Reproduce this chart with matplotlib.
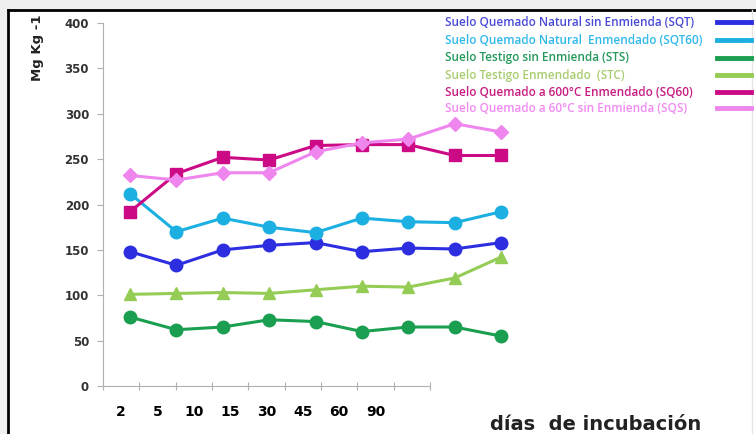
import matplotlib
matplotlib.use("Agg")
import matplotlib.pyplot as plt
from matplotlib.patches import Rectangle
from matplotlib.lines import Line2D

dias = ['2', '5', '10', '15', '30', '45', '60', '90']
n_puntos = 9

sqt = [148, 133, 150, 155, 158, 148, 152, 151, 158]
sqt60 = [212, 170, 185, 175, 169, 185, 181, 180, 192]
sts = [76, 62, 65, 73, 71, 60, 65, 65, 55]
stc = [101, 102, 103, 102, 106, 110, 109, 119, 142]
sq60 = [192, 234, 252, 249, 265, 266, 266, 254, 254]
sq = [232, 227, 235, 235, 258, 268, 272, 289, 280]

nombres = [
    'Suelo Quemado Natural sin Enmienda (SQT)',
    'Suelo Quemado Natural  Enmendado (SQT60)',
    'Suelo Testigo sin Enmienda (STS)',
    'Suelo Testigo Enmendado  (STC)',
    'Suelo Quemado a 600°C Enmendado (SQ60)',
    'Suelo Quemado a 60°C sin Enmienda (SQS)',
]
series = [sqt, sqt60, sts, stc, sq60, sq]
colores = ['#2c2ee0', '#1cb0e2', '#1a9e50', '#95cc55', '#cc0a85', '#ee86ee']
colores_texto = ['#4a4ad8', '#30b8ea', '#25985a', '#a8cc70', '#c81c80', '#f28af2']
marcadores = ['o', 'o', 'o', '^', 's', 'D']
tamanos = [9, 9, 9, 9, 9, 7]

W, H = 756, 434
fig = plt.figure(figsize=(W / 100, H / 100), dpi=100)
fig.patch.set_facecolor('#efefef')

# white panel with dark frame
fig.patches.append(Rectangle((8 / W, -0.02), 1, (H - 10) / H + 0.02,
                             transform=fig.transFigure, facecolor='white',
                             edgecolor='none', zorder=-1))
fig.lines.append(Line2D([8 / W, 8 / W], [0, (H - 10) / H], transform=fig.transFigure,
                        color='black', lw=2))
fig.lines.append(Line2D([8 / W, 1], [(H - 10) / H, (H - 10) / H], transform=fig.transFigure,
                        color='black', lw=2))
fig.lines.append(Line2D([752 / W, 752 / W], [0, (H - 10) / H], transform=fig.transFigure,
                        color='#e4e4e4', lw=1))


def px(x0, y_top, x1, y_bot):
    return [x0 / W, (H - y_bot) / H, (x1 - x0) / W, (y_bot - y_top) / H]


# axis frame
ax = fig.add_axes(px(103, 23, 430, 386))
ax.set_facecolor('none')
ax.set_xlim(0, n_puntos)
ax.set_ylim(0, 400)
ax.set_yticks(range(0, 401, 50))
ax.set_xticks(range(0, n_puntos + 1))
ax.set_xticklabels([])
ax.set_xticks([i + 0.5 for i in range(len(dias))], minor=True)
ax.set_xticklabels(dias, minor=True)
ax.tick_params(axis='x', which='minor', length=0, pad=14, labelsize=10)
ax.tick_params(axis='x', which='major', direction='inout', length=6, color='#b0b0b0')
ax.tick_params(axis='y', direction='out', length=4, color='#b0b0b0', labelsize=8.5,
               labelcolor='#333333', pad=6)
for lab in ax.get_xticklabels(minor=True):
    lab.set_fontweight('bold')
for lab in ax.get_yticklabels():
    lab.set_fontweight('bold')
for s in ['top', 'right']:
    ax.spines[s].set_visible(False)
for s in ['left', 'bottom']:
    ax.spines[s].set_color('#b0b0b0')

# line plot (pasted with its own horizontal spacing)
ax2 = fig.add_axes(px(103, 23, 530, 386))
ax2.set_facecolor('none')
ax2.axis('off')
ax2.set_ylim(0, 400)
ax2.set_xlim(-0.582, 8.625)
xs = list(range(n_puntos))
for vals, c, m, ms in zip(series, colores, marcadores, tamanos):
    ax2.plot(xs, vals, color=c, lw=2.2, marker=m, markersize=ms, zorder=3)

# legend: coloured text + short bars
fila_y = [22, 40, 58, 75, 92, 108]
for nom, c, ct, yy in zip(nombres, colores, colores_texto, fila_y):
    fig.text(445 / W, (H - yy) / H, nom, color=ct, fontsize=8.5, fontweight='semibold',
             va='center', ha='left', family='Open Sans')
    fig.lines.append(Line2D([717 / W, 751 / W], [(H - yy) / H, (H - yy) / H],
                            transform=fig.transFigure, color=c, lw=3.5))

fig.text(38 / W, (H - 48) / H, 'Mg Kg -1', rotation=90, fontsize=9.5, fontweight='bold',
         va='center', ha='center', color='#222222')
fig.text(490 / W, (H - 424) / H, 'días  de incubación', fontsize=14, fontweight='bold',
         va='center', ha='left', color='#222222')

fig.savefig('out.png', dpi=100, facecolor=fig.get_facecolor())
